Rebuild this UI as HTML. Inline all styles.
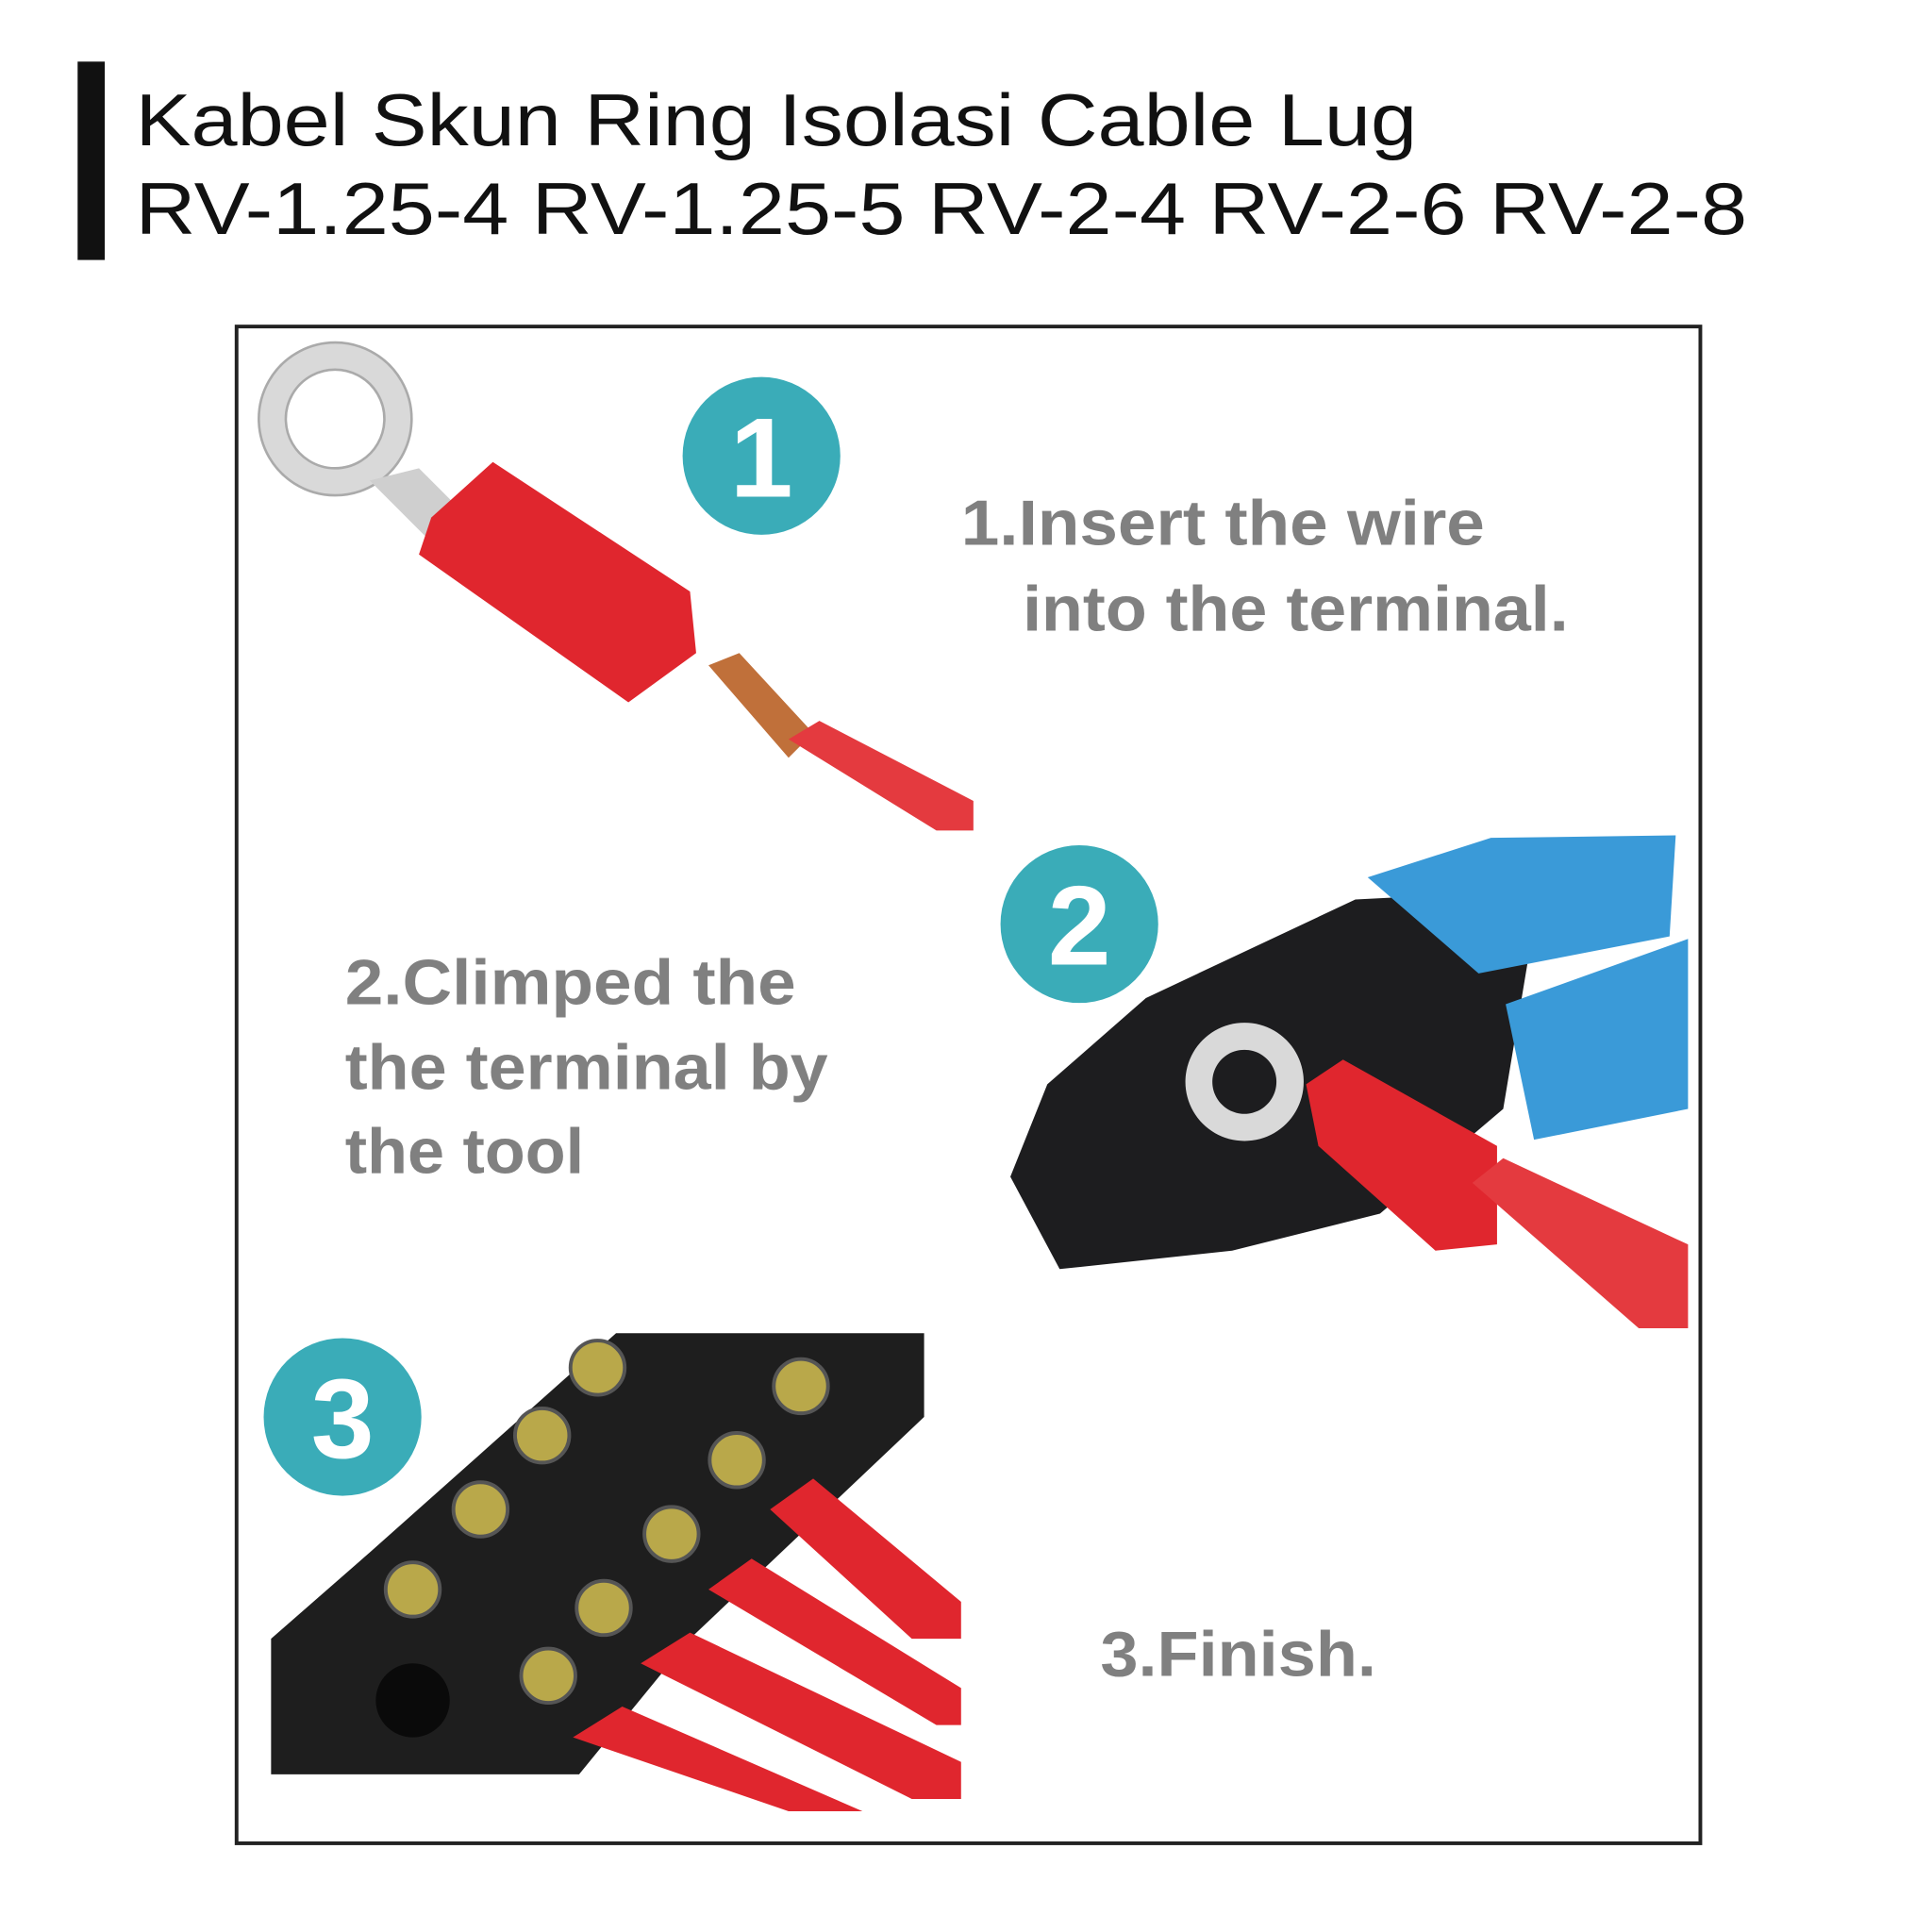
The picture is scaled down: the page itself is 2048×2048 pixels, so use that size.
<!DOCTYPE html>
<html><head><meta charset="utf-8"><style>
html,body{margin:0;padding:0;background:#fff;}
svg{display:block;}
</style></head><body>
<svg width="2048" height="2048" viewBox="0 0 1568 1568" xmlns="http://www.w3.org/2000/svg">
<rect width="1568" height="1568" fill="#fff"/>
<rect x="63" y="50" width="22" height="161" fill="#111"/>
<text x="110" y="118" font-family="Liberation Sans, sans-serif" font-size="60" fill="#111" textLength="1040" lengthAdjust="spacingAndGlyphs">Kabel Skun Ring Isolasi Cable Lug</text>
<text x="110" y="190" font-family="Liberation Sans, sans-serif" font-size="60" fill="#111" textLength="1308" lengthAdjust="spacingAndGlyphs">RV-1.25-4 RV-1.25-5 RV-2-4 RV-2-6 RV-2-8</text>
<rect x="192" y="265" width="1188" height="1231" fill="#fff" stroke="#222" stroke-width="3"/>

<!-- Step 1 terminal -->
<path d="M272,278 a62,62 0 1,0 0.1,0 Z M272,300 a40,40 0 1,1 -0.1,0 Z" fill="#d9d9d9" fill-rule="evenodd" stroke="#aaa" stroke-width="2"/>
<polygon points="300,390 340,380 380,420 350,440" fill="#cfcfcf"/>
<polygon points="350,420 400,375 560,480 565,530 510,570 340,450" fill="#e0262e"/>
<polygon points="575,540 600,530 660,595 640,615" fill="#c0703a"/>
<polygon points="640,600 665,585 790,650 790,674 760,674" fill="#e43a3f"/>
<circle cx="618" cy="370" r="64" fill="#3aacb8"/>
<text x="618" y="403" text-anchor="middle" font-family="Liberation Sans, sans-serif" font-weight="bold" font-size="92" fill="#fff">1</text>
<g font-family="Liberation Sans, sans-serif" font-size="52" font-weight="bold" fill="#808080">
<text x="780" y="442" textLength="425" lengthAdjust="spacingAndGlyphs">1.Insert the wire</text>
<text x="830" y="512" textLength="443" lengthAdjust="spacingAndGlyphs">into the terminal.</text>
<text x="280" y="815" textLength="366" lengthAdjust="spacingAndGlyphs">2.Climped the</text>
<text x="280" y="884" textLength="392" lengthAdjust="spacingAndGlyphs">the terminal by</text>
<text x="280" y="952" textLength="194" lengthAdjust="spacingAndGlyphs">the tool</text>
<text x="893" y="1360" textLength="224" lengthAdjust="spacingAndGlyphs">3.Finish.</text>
</g>

<!-- Step 2 tool -->
<polygon points="820,955 850,880 930,810 1100,730 1200,725 1240,780 1220,900 1120,985 1000,1015 860,1030" fill="#1d1d1f"/>
<polygon points="1110,712 1210,680 1360,678 1355,760 1200,790" fill="#3a9ad8"/>
<polygon points="1222,815 1370,762 1370,900 1245,925" fill="#3a9ad8"/>
<path d="M1010,830 a48,48 0 1,0 0.1,0 Z M1010,852 a26,26 0 1,1 -0.1,0 Z" fill="#d9d9d9" fill-rule="evenodd"/>
<polygon points="1060,880 1090,860 1215,930 1215,1010 1165,1015 1070,930" fill="#e0262e"/>
<polygon points="1195,960 1220,940 1370,1010 1370,1078 1330,1078" fill="#e43a3f"/>
<circle cx="876" cy="750" r="64" fill="#3aacb8"/>
<text x="876" y="783" text-anchor="middle" font-family="Liberation Sans, sans-serif" font-weight="bold" font-size="92" fill="#fff">2</text>

<!-- Step 3 block -->
<polygon points="220,1330 300,1260 500,1082 750,1082 750,1150 560,1330 470,1440 220,1440" fill="#1e1e1e"/>
<g fill="#b9a84a" stroke="#555" stroke-width="3">
<circle cx="485" cy="1110" r="22"/><circle cx="650" cy="1125" r="22"/>
<circle cx="440" cy="1165" r="22"/><circle cx="598" cy="1185" r="22"/>
<circle cx="390" cy="1225" r="22"/><circle cx="545" cy="1245" r="22"/>
<circle cx="335" cy="1290" r="22"/><circle cx="490" cy="1305" r="22"/>
<circle cx="445" cy="1360" r="22"/>
</g>
<circle cx="335" cy="1380" r="30" fill="#0a0a0a"/>
<g fill="#e0262e">
<polygon points="625,1225 660,1200 780,1300 780,1330 740,1330"/>
<polygon points="575,1290 610,1265 780,1370 780,1400 760,1400"/>
<polygon points="520,1350 560,1325 780,1430 780,1460 740,1460"/>
<polygon points="465,1410 505,1385 700,1470 640,1470"/>
</g>
<circle cx="278" cy="1150" r="64" fill="#3aacb8"/>
<text x="278" y="1183" text-anchor="middle" font-family="Liberation Sans, sans-serif" font-weight="bold" font-size="92" fill="#fff">3</text>
</svg>
</body></html>
